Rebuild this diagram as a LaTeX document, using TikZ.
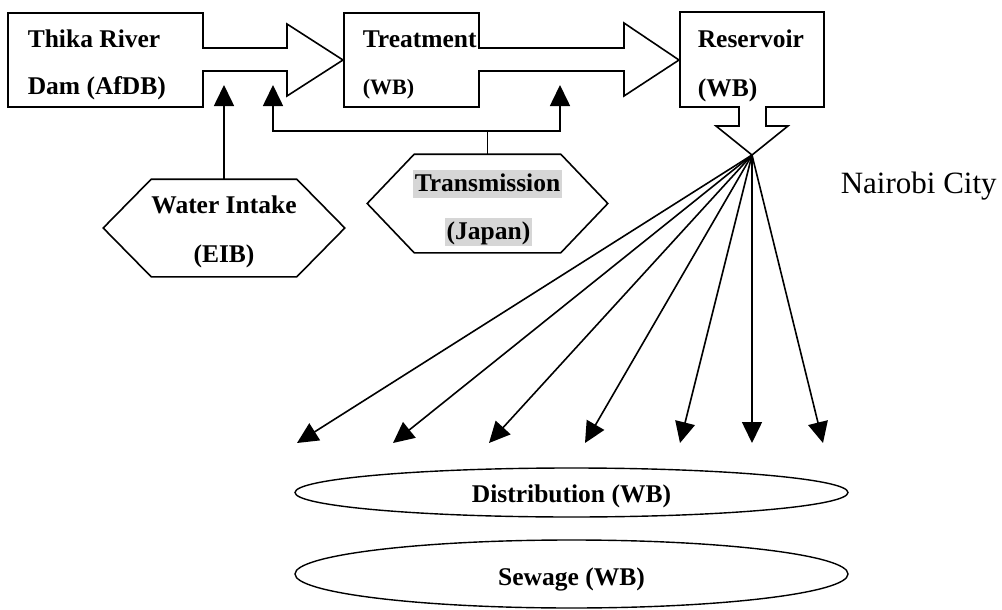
\documentclass[tikz,border=0pt]{standalone}
\usepackage{fontspec}
\setmainfont{Liberation Serif}
\usetikzlibrary{arrows.meta,calc,shapes.geometric}
\begin{document}
\begin{tikzpicture}[x=1pt,y=-1pt, line width=1.6pt, line join=miter,
  bfont/.style={font=\fontsize{25.5}{29}\selectfont\bfseries},
  lbl/.style={bfont, anchor=base west, inner sep=0pt},
  clbl/.style={bfont, anchor=base, inner sep=0pt},
  hl/.style={bfont, anchor=base, fill=black!16, text height=20pt, text depth=5pt, inner xsep=1.5pt, inner ysep=1.5pt},
  arr/.style={-{Triangle[length=21pt,width=20pt]}, line width=1.6pt},
  holder/.style={inner sep=0pt, draw=none},
  oval/.style={ellipse, draw, line width=1.4pt, bfont, minimum width=553pt, inner sep=0pt},
]
\useasboundingbox (0,0) rectangle (1002,610);

% ---- top boxes with block arrows ----
\node[holder, minimum width=195pt, minimum height=94pt] (dam) at (105.5,60) {};
\node[holder, minimum width=135pt, minimum height=94pt] (treat) at (411.5,60) {};
\node[holder, minimum width=144pt, minimum height=95pt] (res) at (752,59.5) {};

\draw (8,13) -- (203,13) -- (203,48) -- (287,48) -- (287,24) -- (343,60) -- (287,96) -- (287,71) -- (203,71) -- (203,107) -- (8,107) -- cycle;
\draw (344,13) -- (479,13) -- (479,48) -- (624,48) -- (624,23) -- (679,60) -- (624,96) -- (624,71) -- (479,71) -- (479,107) -- (344,107) -- cycle;
\draw (739,107) -- (680,107) -- (680,12) -- (824,12) -- (824,107) -- (766,107) -- (766,126) -- (788,126) -- (752,155) -- (716,126) -- (739,126) -- cycle;

\node[lbl] (t1a) at (27,48) {Thika River};
\node[lbl] (t1b) at (27,95) {Dam (AfDB)};
\node[lbl] (t2a) at (362,48) {Treatment};
\node[lbl, font=\fontsize{22}{25}\selectfont\bfseries] (t2b) at (362,95) {(WB)};
\node[lbl] (t3a) at (697,48) {Reservoir};
\node[lbl] (t3b) at (697,96) {(WB)};

% ---- hexagons ----
\node[holder, minimum width=240pt, minimum height=96pt] (wi) at (224,228) {};
\draw (wi.west) -- ([xshift=48pt]wi.north west) -- ([xshift=-48pt]wi.north east) -- (wi.east) -- ([xshift=-48pt]wi.south east) -- ([xshift=48pt]wi.south west) -- cycle;
\node[clbl] (wia) at (224,213) {Water Intake};
\node[clbl] (wib) at (224,262) {(EIB)};

\node[holder, minimum width=239pt, minimum height=97pt] (tr) at (487.5,203.5) {};
\draw (tr.west) -- ([xshift=47pt]tr.north west) -- ([xshift=-47pt]tr.north east) -- (tr.east) -- ([xshift=-47pt]tr.south east) -- ([xshift=47pt]tr.south west) -- cycle;
\node[hl] (tra) at (487.5,191) {Transmission};
\node[hl] (trb) at (488.5,239) {(Japan)};

% ---- feeder connectors ----
\coordinate (wiTip) at (224,85);
\coordinate (trA) at (273,85);
\coordinate (trB) at (560,85);
\coordinate (trJ) at (487.5,131);
\draw[arr] (wi.north) -- (wiTip);
\draw (tr.north) -- (trJ);
\draw[arr] (trJ) -| (trA);
\draw[arr] (trJ) -| (trB);

% ---- city ----
\node[anchor=base west, inner sep=0pt, font=\fontsize{31}{35}\selectfont] (city) at (840,193) {Nairobi City};

% ---- fan of distribution arrows ----
\coordinate (fan) at (752,155);
\coordinate (d1) at (297,443);
\coordinate (d2) at (393,443);
\coordinate (d3) at (489,443);
\coordinate (d4) at (585,443);
\coordinate (d5) at (680,443);
\coordinate (d6) at (752,443);
\coordinate (d7) at (823,443);
\foreach \d in {d1,d2,d3,d4,d5,d6,d7} \draw[arr] (fan) -- (\d);

% ---- ellipses ----
\node[oval, minimum height=49pt] (dist) at (571.5,492.5) {};
\node[clbl] (distt) at (571.5,502) {Distribution (WB)};
\node[oval, minimum height=68pt] (sew) at (571.5,574) {};
\node[clbl] (sewt) at (571.5,585) {Sewage (WB)};
\end{tikzpicture}
\end{document}
